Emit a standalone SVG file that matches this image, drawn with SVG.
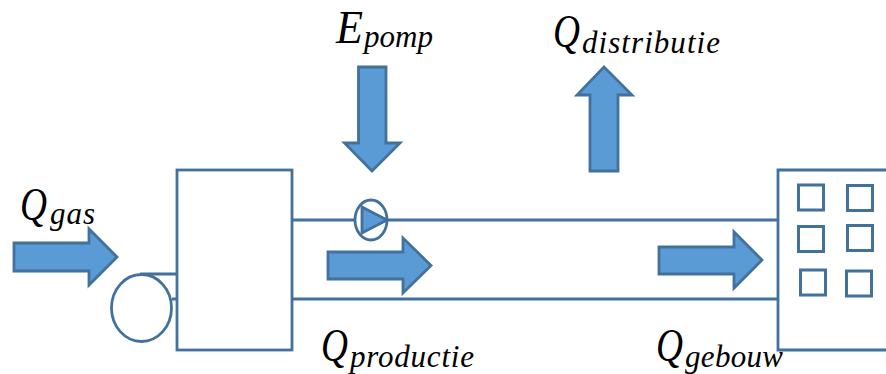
<svg xmlns="http://www.w3.org/2000/svg" width="886" height="374" viewBox="0 0 886 374">
<style>
.s{fill:#fff;stroke:#41719c;stroke-width:2.8}
.o{fill:none;stroke:#41719c;stroke-width:2.8}
.a{fill:#5b9bd5;stroke:#41719c;stroke-width:2.8;stroke-linejoin:miter}
.w{fill:#fff;stroke:#41719c;stroke-width:3}
text{font-family:"Liberation Serif",serif;font-style:italic;fill:#000}
.q{font-size:47px}
.b{font-size:31px}
</style>
<rect width="886" height="374" fill="#fff"/>
<g id="connectors">
<path class="o" d="M292 220H356M387 220H778M292 299H778M140 274H177M172 299H177"/>
</g>
<g id="boiler"><ellipse class="s" cx="141.500" cy="308" rx="30" ry="33.500"/></g>
<g id="ketel"><rect class="s" x="177" y="170" width="115" height="180"/></g>
<g id="pomp"><ellipse class="s" cx="371" cy="220" rx="16" ry="20"/><path class="a" d="M362 207L387 220L362 233Z"/></g>
<g id="gebouw">
<path class="s" d="M886 170H778V350H886"/>
<rect class="w" x="798.500" y="185" width="25" height="25"/>
<rect class="w" x="847.500" y="185.500" width="25" height="25"/>
<rect class="w" x="798.500" y="226.500" width="25" height="25"/>
<rect class="w" x="847.500" y="225.500" width="25" height="25"/>
<rect class="w" x="800.500" y="270" width="25" height="25"/>
<rect class="w" x="846.500" y="271" width="25" height="25"/>
</g>
<g id="pijl-gas"><path class="a" d="M14 243H89V229L117 257L89 285V271H14Z"/></g>
<g id="pijl-productie"><path class="a" d="M328 252H403V238L431 265.500L403 293V279H328Z"/></g>
<g id="pijl-gebouw"><path class="a" d="M659 247H734V232L762 260L734 288V274H659Z"/></g>
<g id="pijl-pomp"><path class="a" d="M358.500 67H386V143H400L372 171L344.500 143H358.500Z"/></g>
<g id="pijl-distributie"><path class="a" d="M590 171V95H577L604 67L632 95H618V171Z"/></g>
<g id="label-gas"><text class="q" x="20" y="220" textLength="27" lengthAdjust="spacingAndGlyphs">Q</text><text class="b" x="50" y="224" textLength="45">gas</text></g>
<g id="label-pomp"><text class="q" x="336" y="43" textLength="27" lengthAdjust="spacingAndGlyphs">E</text><text class="b" x="364" y="47" textLength="69">pomp</text></g>
<g id="label-distributie"><text class="q" x="553" y="47" textLength="27" lengthAdjust="spacingAndGlyphs">Q</text><text class="b" x="582" y="53" textLength="138">distributie</text></g>
<g id="label-productie"><text class="q" x="321" y="361" textLength="27" lengthAdjust="spacingAndGlyphs">Q</text><text class="b" x="350" y="367" textLength="124">productie</text></g>
<g id="label-gebouw"><text class="q" x="656" y="361" textLength="27" lengthAdjust="spacingAndGlyphs">Q</text><text class="b" x="685" y="367" textLength="98">gebouw</text></g>
</svg>
